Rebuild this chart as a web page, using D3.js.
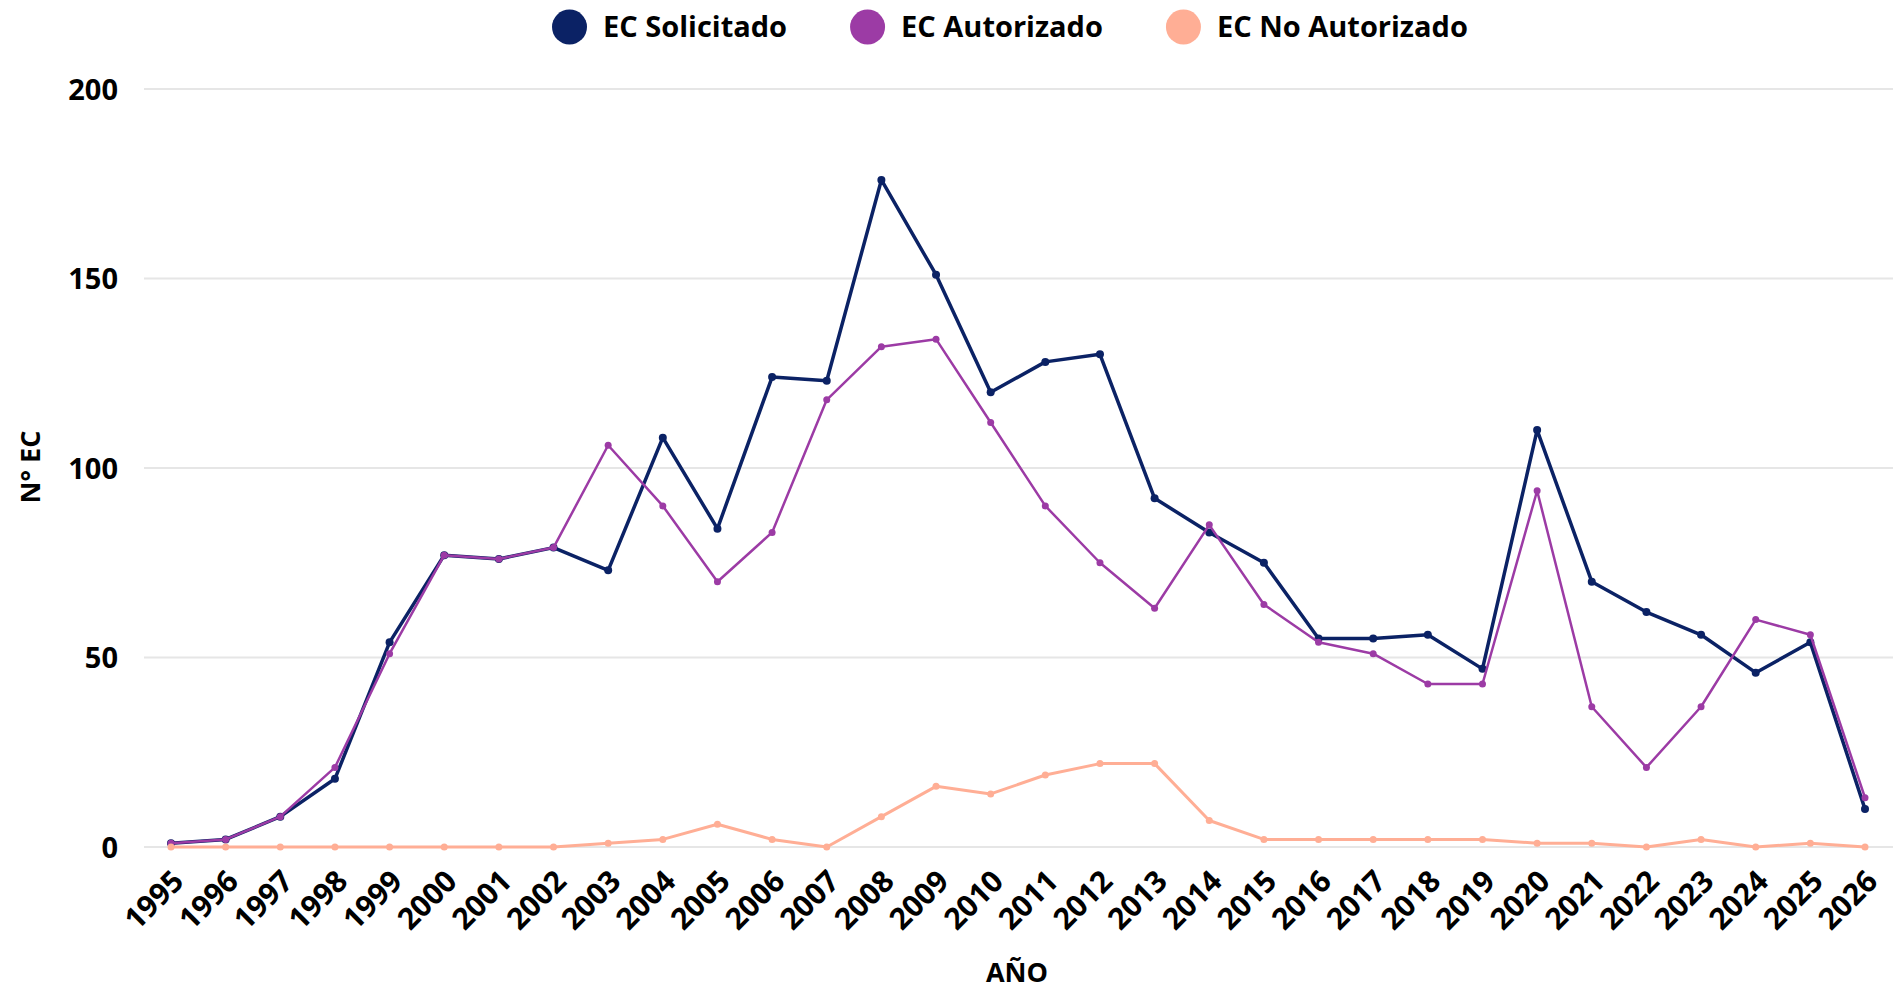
<!DOCTYPE html>
<html>
<head>
<meta charset="utf-8">
<script src="https://cdn.jsdelivr.net/npm/d3@7"></script>
<style>
  body { margin: 0; background: #fff; }
  svg text { font-family: "Open Sans", "Noto Sans", sans-serif; font-weight: 700; fill: #000; }
</style>
</head>
<body>
<div id="chart"></div>
<script>
// data
var years = d3.range(1995, 2027).map(String);
var solicitado = [1, 2, 8, 18, 54, 77, 76, 79, 73, 108, 84, 124, 123, 176, 151, 120,
                  128, 130, 92, 83, 75, 55, 55, 56, 47, 110, 70, 62, 56, 46, 54, 10];
var autorizado = [1, 2, 8, 21, 51, 77, 76, 79, 106, 90, 70, 83, 118, 132, 134, 112,
                  90, 75, 63, 85, 64, 54, 51, 43, 43, 94, 37, 21, 37, 60, 56, 13];
var noAutorizado = [0, 0, 0, 0, 0, 0, 0, 0, 1, 2, 6, 2, 0, 8, 16, 14,
                    19, 22, 22, 7, 2, 2, 2, 2, 2, 1, 1, 0, 2, 0, 1, 0];
var seriesNames = ["EC Solicitado", "EC Autorizado", "EC No Autorizado"];
var yTicks = [0, 50, 100, 150, 200];

var series = [
  {name: seriesNames[0], values: solicitado, color: "#0b2265", width: 3.5, r: 4},
  {name: seriesNames[1], values: autorizado, color: "#9c3ba5", width: 2.5, r: 3.5},
  {name: seriesNames[2], values: noAutorizado, color: "#ffae95", width: 3, r: 3.5}
];

var W = 1893, H = 989;

var svg = d3.select("#chart").append("svg")
    .attr("width", W)
    .attr("height", H);

// scales
var x = d3.scalePoint().domain(years).range([171, 1865]);
var y = d3.scaleLinear().domain([0, 200]).range([847, 89]);

// gridlines
svg.append("g")
  .selectAll("line")
  .data(yTicks)
  .enter().append("line")
    .attr("x1", 144)
    .attr("x2", W)
    .attr("y1", function(d) { return y(d); })
    .attr("y2", function(d) { return y(d); })
    .style("stroke", "#e6e6e6")
    .style("stroke-width", 2);

// y axis labels
var yAxis = svg.append("g")
    .attr("transform", "translate(118,0)")
    .call(d3.axisLeft(y).tickValues(yTicks).tickSize(0).tickPadding(0));
yAxis.select(".domain").remove();
yAxis.selectAll("text")
    .style("font-size", "29px")
    .attr("dy", "0.36em");

// x axis labels, rotated
var xAxis = svg.append("g")
    .attr("transform", "translate(0,847)")
    .call(d3.axisBottom(x).tickSize(0).tickPadding(0));
xAxis.select(".domain").remove();
xAxis.selectAll("text")
    .style("font-size", "30px")
    .style("text-anchor", "end")
    .attr("y", 0)
    .attr("dy", 0)
    .attr("transform", "translate(14,36) rotate(-45)");

// axis titles
svg.append("text")
    .attr("x", 1017)
    .attr("y", 982)
    .attr("text-anchor", "middle")
    .style("font-size", "27px")
    .text("AÑO");

svg.append("text")
    .attr("transform", "translate(40,467) rotate(-90)")
    .attr("text-anchor", "middle")
    .style("font-size", "27px")
    .text("N° EC");

// lines and markers
var line = d3.line()
    .x(function(d, i) { return x(years[i]); })
    .y(function(d) { return y(d); });

series.forEach(function(s) {
  svg.append("path")
    .datum(s.values)
    .attr("fill", "none")
    .style("stroke", s.color)
    .style("stroke-width", s.width)
    .style("stroke-linejoin", "round")
    .attr("d", line);

  svg.append("g")
    .selectAll("circle")
    .data(s.values)
    .enter().append("circle")
      .attr("cx", function(d, i) { return x(years[i]); })
      .attr("cy", function(d) { return y(d); })
      .attr("r", s.r)
      .style("fill", s.color);
});

// legend
var lx = 552;
series.forEach(function(s) {
  var g = svg.append("g").attr("transform", "translate(" + lx + ",0)");
  g.append("circle")
    .attr("cx", 17.5)
    .attr("cy", 27)
    .attr("r", 17.5)
    .style("fill", s.color);
  var t = g.append("text")
    .attr("x", 51)
    .attr("y", 37)
    .style("font-size", "29px")
    .text(s.name);
  lx += 51 + t.node().getComputedTextLength() + 63;
});
</script>
</body>
</html>
